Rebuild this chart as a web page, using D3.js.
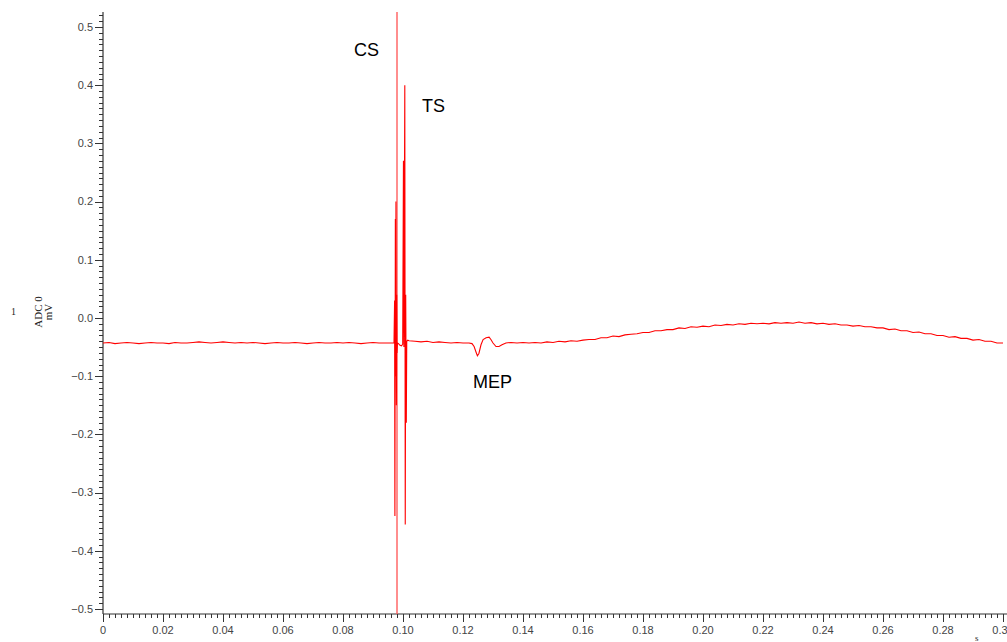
<!DOCTYPE html>
<html><head><meta charset="utf-8">
<script src="https://cdn.jsdelivr.net/npm/d3@7"></script>
<style>
body{margin:0;background:#fff;}
svg{display:block;}
</style></head>
<body><svg id="chart" width="1007" height="642"></svg>
<script>
// ---- data (time in s, amplitude in mV) ----
const baseline = [
[0.000,-0.043],[0.002,-0.042],[0.004,-0.044],[0.006,-0.043],[0.008,-0.042],[0.010,-0.043],[0.012,-0.044],[0.014,-0.043],[0.016,-0.042],[0.018,-0.043],
[0.020,-0.043],[0.022,-0.044],[0.024,-0.042],[0.026,-0.043],[0.028,-0.043],[0.030,-0.042],[0.032,-0.041],[0.034,-0.042],[0.036,-0.043],[0.038,-0.042],
[0.040,-0.041],[0.042,-0.042],[0.044,-0.043],[0.046,-0.042],[0.048,-0.043],[0.050,-0.042],[0.052,-0.043],[0.054,-0.044],[0.056,-0.043],[0.058,-0.042],
[0.060,-0.043],[0.062,-0.043],[0.064,-0.042],[0.066,-0.043],[0.068,-0.044],[0.070,-0.043],[0.072,-0.042],[0.074,-0.043],[0.076,-0.043],[0.078,-0.042],
[0.080,-0.043],[0.082,-0.042],[0.084,-0.043],[0.086,-0.044],[0.088,-0.043],[0.090,-0.042],[0.092,-0.043],[0.094,-0.043],[0.096,-0.043],[0.0970,-0.043]
];
const artifacts = [
[0.09720,0.030],[0.09730,-0.340],[0.09745,0.170],[0.09755,-0.100],[0.09765,0.200],[0.09780,-0.150],[0.09790,0.040],[0.09800,-0.060],[0.09815,-0.043],
[0.09850,-0.044],[0.09900,-0.047],[0.09950,-0.048],[0.09990,-0.045],
[0.10015,0.270],[0.10030,-0.050],[0.10060,0.400],[0.10075,-0.355],[0.10090,0.040],[0.10110,-0.180],[0.10125,-0.040],[0.10160,-0.038]
];
const mep = [
[0.1020,-0.039],[0.1040,-0.040],[0.1060,-0.041],[0.1080,-0.040],[0.1100,-0.042],[0.1120,-0.041],[0.1140,-0.042],[0.1160,-0.043],[0.1180,-0.042],[0.1200,-0.043],
[0.1220,-0.043],[0.1230,-0.044],[0.1237,-0.049],[0.1243,-0.058],[0.1248,-0.065],[0.1253,-0.061],[0.1260,-0.046],[0.1267,-0.037],[0.1277,-0.034],[0.1287,-0.033],
[0.1293,-0.037],[0.1300,-0.043],[0.1310,-0.049],[0.1320,-0.049],[0.1330,-0.046],[0.1343,-0.043],[0.1360,-0.042],[0.1380,-0.043]
];
const tail = [
[0.1400,-0.042],[0.1420,-0.043],[0.1440,-0.042],[0.1460,-0.043],[0.1480,-0.041],[0.1500,-0.042],[0.1520,-0.040],[0.1540,-0.041],[0.1560,-0.039],[0.1580,-0.040],
[0.1600,-0.038],[0.1620,-0.037],[0.1640,-0.037],[0.1660,-0.034],[0.1680,-0.034],[0.1700,-0.031],[0.1720,-0.032],[0.1740,-0.029],[0.1760,-0.028],[0.1780,-0.027],
[0.1800,-0.025],[0.1820,-0.025],[0.1840,-0.022],[0.1860,-0.022],[0.1880,-0.020],[0.1900,-0.020],[0.1920,-0.017],[0.1940,-0.018],[0.1960,-0.015],[0.1980,-0.016],
[0.2000,-0.014],[0.2020,-0.015],[0.2040,-0.012],[0.2060,-0.013],[0.2080,-0.011],[0.2100,-0.012],[0.2120,-0.010],[0.2140,-0.011],[0.2160,-0.009],[0.2180,-0.010],
[0.2200,-0.009],[0.2220,-0.010],[0.2240,-0.008],[0.2260,-0.009],[0.2280,-0.008],[0.2300,-0.009],[0.2320,-0.007],[0.2340,-0.009],[0.2360,-0.008],[0.2380,-0.010],
[0.2400,-0.009],[0.2420,-0.011],[0.2440,-0.010],[0.2460,-0.012],[0.2480,-0.012],[0.2500,-0.014],[0.2520,-0.013],[0.2540,-0.015],[0.2560,-0.015],[0.2580,-0.017],
[0.2600,-0.017],[0.2620,-0.020],[0.2640,-0.019],[0.2660,-0.022],[0.2680,-0.022],[0.2700,-0.025],[0.2720,-0.024],[0.2740,-0.027],[0.2760,-0.027],[0.2780,-0.030],
[0.2800,-0.030],[0.2820,-0.033],[0.2840,-0.032],[0.2860,-0.035],[0.2880,-0.035],[0.2900,-0.038],[0.2920,-0.037],[0.2940,-0.040],[0.2960,-0.040],[0.2980,-0.043],
[0.3000,-0.043]
];
const csMarkerTime = 0.098;
const annotations = [
  {label:"CS",  t:0.0837, v:0.450},
  {label:"TS",  t:0.1063, v:0.354},
  {label:"MEP", t:0.1233, v:-0.120}
];
const yTicks = [0.5,0.4,0.3,0.2,0.1,0.0,-0.1,-0.2,-0.3,-0.4,-0.5];
const xTicks = [0,0.02,0.04,0.06,0.08,0.10,0.12,0.14,0.16,0.18,0.20,0.22,0.24,0.26,0.28,0.30];
const yLabelLines = ["ADC 0","mV"];
const channelLabel = "1";
const xUnitLabel = "s";

// ---- drawing ----
const svg = d3.select("#chart");
const x = d3.scaleLinear().domain([0,0.3]).range([103,1003]);
const y = d3.scaleLinear().domain([0.5,-0.5]).range([27,609]);
const yTopVal = y.invert(12), yBotVal = y.invert(614);
const axisColor = "#333";

// minor ticks
const yMinor = d3.range(-50,53).map(i=>i/100).filter(v=>v>=yBotVal && v<=yTopVal);
const xMinor = d3.range(0,151).map(i=>i/500);

const gy = svg.append("g").attr("transform","translate(103,0)");
gy.append("line").attr("x1",0).attr("x2",0).attr("y1",12).attr("y2",614).attr("stroke",axisColor).attr("stroke-width",1.2);
gy.selectAll(".ym").data(yMinor).join("line").attr("x1",-4).attr("x2",0)
  .attr("y1",d=>Math.round(y(d))+0.5).attr("y2",d=>Math.round(y(d))+0.5).attr("stroke",axisColor);
gy.selectAll(".yM").data(yTicks).join("line").attr("x1",-8).attr("x2",0)
  .attr("y1",d=>Math.round(y(d))+0.5).attr("y2",d=>Math.round(y(d))+0.5).attr("stroke",axisColor);
gy.selectAll(".yl").data(yTicks).join("text").attr("x",-10).attr("y",d=>y(d)).attr("dy","0.35em")
  .attr("text-anchor","end").attr("font-family","Liberation Sans, Arial, sans-serif").attr("font-size",11)
  .attr("fill","#444").text(d=>d3.format(".1f")(d));

const gx = svg.append("g").attr("transform","translate(0,614)");
gx.append("line").attr("x1",103).attr("x2",1007).attr("y1",0).attr("y2",0).attr("stroke",axisColor).attr("stroke-width",1.2);
gx.selectAll(".xm").data(xMinor).join("line").attr("y1",0).attr("y2",4)
  .attr("x1",d=>Math.round(x(d))+0.5).attr("x2",d=>Math.round(x(d))+0.5).attr("stroke",axisColor);
gx.selectAll(".xM").data(xTicks).join("line").attr("y1",0).attr("y2",8)
  .attr("x1",d=>Math.round(x(d))+0.5).attr("x2",d=>Math.round(x(d))+0.5).attr("stroke",axisColor);
gx.selectAll(".xl").data(xTicks).join("text").attr("x",d=>x(d)).attr("y",20)
  .attr("text-anchor","middle").attr("font-family","Liberation Sans, Arial, sans-serif").attr("font-size",11)
  .attr("fill","#444").text(d=>d===0?"0":d3.format(".2f")(d));
svg.append("text").attr("x",975).attr("y",641).attr("font-family","Liberation Serif, serif").attr("font-size",9).attr("fill","#222").text(xUnitLabel);

// y axis title
svg.append("text").attr("x",11).attr("y",315).attr("font-family","Liberation Serif, serif").attr("font-size",10).attr("fill","#222").text(channelLabel);
yLabelLines.forEach((s,i)=>{
  svg.append("text").attr("transform",`translate(${42+i*10},312) rotate(-90)`).attr("text-anchor","middle")
    .attr("font-family","Liberation Serif, serif").attr("font-size",11).attr("fill","#222").text(s);
});

// CS marker line
svg.append("line").attr("x1",x(csMarkerTime)).attr("x2",x(csMarkerTime)).attr("y1",12).attr("y2",614)
  .attr("stroke","#ff5a5a").attr("stroke-width",1.6).attr("opacity",0.85);

// trace
const trace = baseline.concat(artifacts, mep, tail);
const line = d3.line().x(d=>x(d[0])).y(d=>y(d[1]));
svg.append("path").datum(trace).attr("d",line).attr("fill","none").attr("stroke","#ff0000").attr("stroke-width",1.1);

// annotations
svg.selectAll(".ann").data(annotations).join("text").attr("x",d=>x(d.t)).attr("y",d=>y(d.v))
  .attr("font-family","Liberation Sans, Arial, sans-serif").attr("font-size",18).attr("fill","#000").text(d=>d.label);
</script></body></html>
